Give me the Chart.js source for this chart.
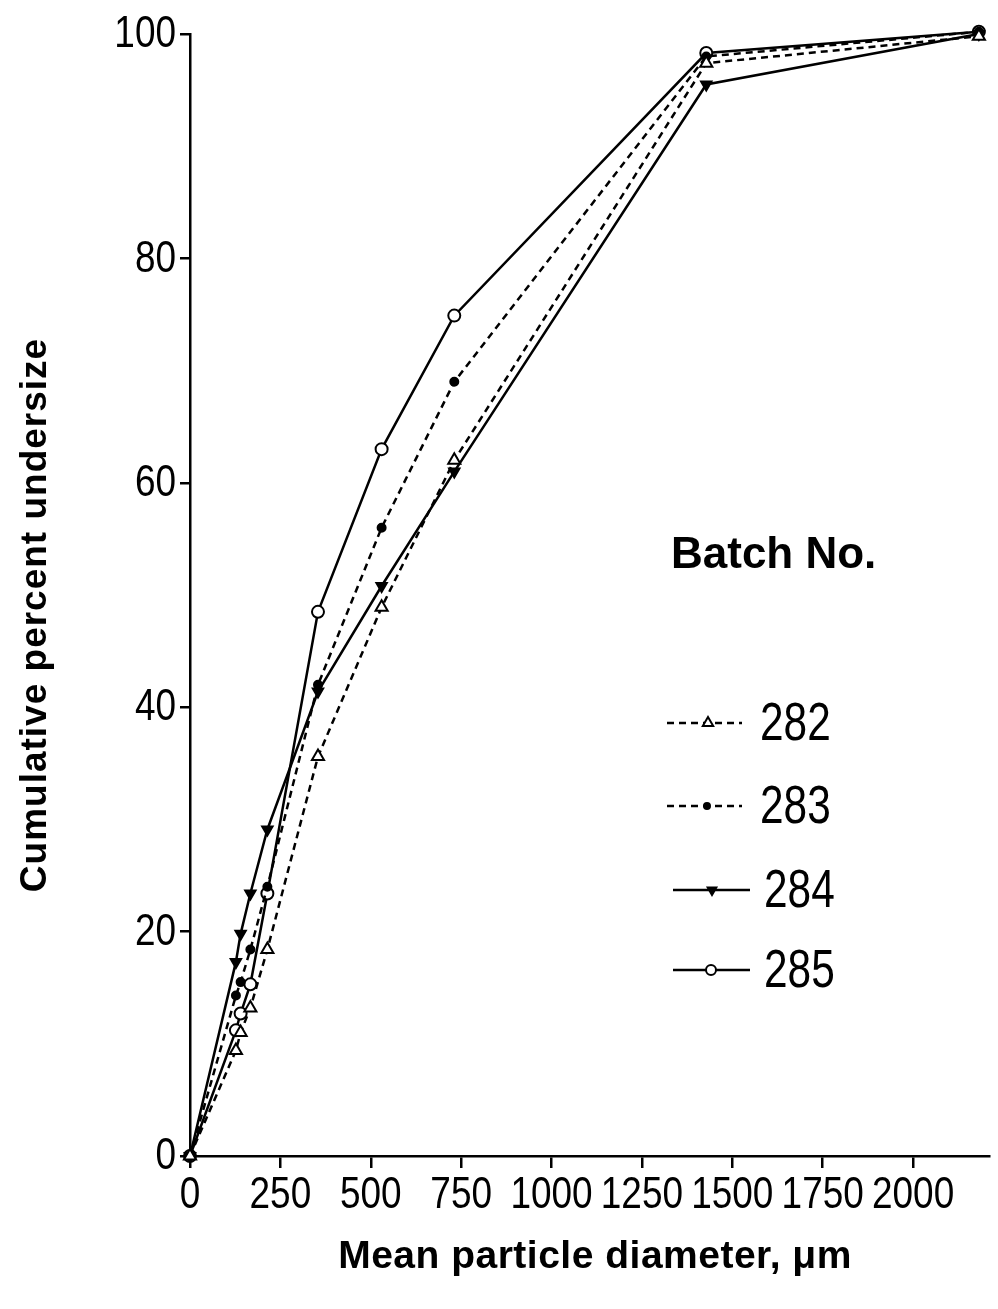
<!DOCTYPE html>
<html>
<head>
<meta charset="utf-8">
<script src="https://cdn.jsdelivr.net/npm/chart.js@4.4.0/dist/chart.umd.min.js"></script>
<style>
  html, body { margin: 0; padding: 0; background: #fff; }
  #wrap { width: 998px; height: 1309px; }
</style>
</head>
<body>
<div id="wrap"><canvas id="psdChart" width="998" height="1309"></canvas></div>
<script>
// mean particle diameter (um) for each sieve fraction
const diameters = [0, 127, 140, 167, 214, 354, 530, 731, 1428, 2182];

// cumulative percent undersize per batch
const batch282 = [0, 9.4, 11.0, 13.2, 18.4, 35.6, 48.9, 62.0, 97.4, 99.8];
const batch283 = [0, 14.3, 15.5, 18.4, 24.0, 42.0, 56.0, 69.0, 98.0, 100.2];
const batch284 = [0, 17.3, 19.8, 23.4, 29.1, 41.4, 50.8, 61.0, 95.5, 100.0];
const batch285 = [0, 11.2, 12.7, 15.3, 23.4, 48.5, 63.0, 74.9, 98.3, 100.2];

const batchLabels = ["282", "283", "284", "285"];
const xTicks = [0, 250, 500, 750, 1000, 1250, 1500, 1750, 2000];
const yTicks = [0, 20, 40, 60, 80, 100];

const sans = "'Liberation Sans', Arial, sans-serif";

const toPoints = (ys) => diameters.map((d, i) => ({ x: d, y: ys[i] }));

const styles = [
	{ pointStyle: "triangle", rotation: 0, radius: 7, fill: "#fff", dash: [7, 5] },
	{ pointStyle: "circle", rotation: 0, radius: 4, fill: "#000", dash: [7, 5] },
	{ pointStyle: "triangle", rotation: 180, radius: 6, fill: "#000", dash: [] },
	{ pointStyle: "circle", rotation: 0, radius: 6, fill: "#fff", dash: [] },
];

const series = [batch282, batch283, batch284, batch285];

const datasets = series.map((ys, i) => ({
	label: batchLabels[i],
	data: toPoints(ys),
	showLine: true,
	borderColor: "#000",
	borderWidth: 2.5,
	borderDash: styles[i].dash,
	pointStyle: styles[i].pointStyle,
	rotation: styles[i].rotation,
	pointRadius: styles[i].radius,
	pointBackgroundColor: styles[i].fill,
	pointBorderColor: "#000",
	pointBorderWidth: 2,
	clip: false,
}));

// narrow-looking numbers (no Arial Narrow available, so squeeze Liberation Sans)
function narrowText(ctx, text, x, y, size, squeeze, align) {
	ctx.save();
	ctx.font = size + "px " + sans;
	ctx.textAlign = align;
	ctx.textBaseline = "middle";
	ctx.translate(x, y);
	ctx.scale(squeeze, 1);
	ctx.fillText(text, 0, 0);
	ctx.restore();
}

// tick labels, axis titles and the batch legend
const annotations = {
	id: "annotations",
	afterDraw(chart) {
		const ctx = chart.ctx;
		const xs = chart.scales.x;
		const ys = chart.scales.y;
		ctx.save();
		ctx.fillStyle = "#000";

		xTicks.forEach((v) => {
			narrowText(ctx, String(v), xs.getPixelForValue(v), 1196, 44, 0.84, "center");
		});
		yTicks.forEach((v) => {
			narrowText(ctx, String(v), 176, ys.getPixelForValue(v) + 1, 44, 0.84, "right");
		});

		// y title
		ctx.font = "bold 37px " + sans;
		ctx.letterSpacing = "1px";
		ctx.textAlign = "center";
		ctx.textBaseline = "middle";
		ctx.translate(36, 615);
		ctx.rotate(-Math.PI / 2);
		ctx.fillText("Cumulative percent undersize", 0, 0);
		ctx.setTransform(1, 0, 0, 1, 0, 0);

		// x title
		ctx.font = "bold 39px " + sans;
		ctx.letterSpacing = "0.5px";
		ctx.fillText("Mean particle diameter, \u03bcm", 595, 1257);

		// legend
		ctx.letterSpacing = "0px";
		ctx.textAlign = "left";
		ctx.font = "bold 44px " + sans;
		ctx.fillText("Batch No.", 671, 556);

		const rows = [
			{ y: 723, x0: 667, x1: 742, mx: 708, tx: 760 },
			{ y: 806, x0: 667, x1: 742, mx: 707, tx: 760 },
			{ y: 890, x0: 673, x1: 750, mx: 712, tx: 764 },
			{ y: 970, x0: 673, x1: 750, mx: 711, tx: 764 },
		];
		rows.forEach((r, i) => {
			const st = styles[i];
			ctx.strokeStyle = "#000";
			ctx.lineWidth = 2.5;
			ctx.setLineDash(st.dash);
			ctx.beginPath();
			ctx.moveTo(r.x0, r.y);
			ctx.lineTo(r.x1, r.y);
			ctx.stroke();
			ctx.setLineDash([]);
			ctx.fillStyle = st.fill;
			ctx.lineWidth = 2;
			Chart.helpers.drawPoint(ctx, {
				pointStyle: st.pointStyle,
				rotation: st.rotation,
				radius: Math.max(st.radius - 1, 3),
				borderWidth: 2,
			}, r.mx, r.y);
			ctx.fillStyle = "#000";
			narrowText(ctx, batchLabels[i], r.tx, r.y + 2, 53, 0.8, "left");
		});
		ctx.restore();
	},
};

const ctx = document.getElementById("psdChart").getContext("2d");
new Chart(ctx, {
	type: "scatter",
	data: { datasets: datasets },
	options: {
		responsive: false,
		animation: false,
		layout: { padding: { top: 34, right: 2, left: 0, bottom: 0 } },
		plugins: { legend: { display: false }, tooltip: { enabled: false } },
		scales: {
			x: {
				type: "linear",
				min: 0,
				max: 2210,
				afterBuildTicks: (scale) => {
					scale.ticks = xTicks.map((v) => ({ value: v }));
				},
				afterFit: (scale) => {
					scale.height = 153;
				},
				grid: {
					drawOnChartArea: false,
					color: "#000",
					lineWidth: 2.5,
					tickLength: 12,
				},
				border: { color: "#000", width: 2.5 },
				ticks: { display: false },
			},
			y: {
				type: "linear",
				min: 0,
				max: 100,
				afterBuildTicks: (scale) => {
					scale.ticks = yTicks.map((v) => ({ value: v }));
				},
				afterFit: (scale) => {
					scale.width = 190;
				},
				grid: {
					drawOnChartArea: false,
					color: "#000",
					lineWidth: 2.5,
					tickLength: 10,
				},
				border: { color: "#000", width: 2.5 },
				ticks: { display: false },
			},
		},
	},
	plugins: [annotations],
});
</script>
</body>
</html>
